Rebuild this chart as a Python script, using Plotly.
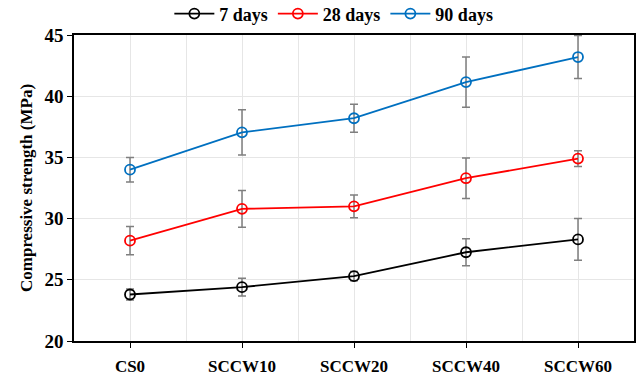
import plotly.graph_objects as go

categories = ["CS0", "SCCW10", "SCCW20", "SCCW40", "SCCW60"]
d7 = [23.8, 24.4, 25.3, 27.25, 28.3]
d7_err = [0.45, 0.72, 0.38, 1.1, 1.7]
d28 = [28.2, 30.8, 31.0, 33.3, 34.9]
d28_err = [1.15, 1.5, 0.93, 1.65, 0.65]
d90 = [34.0, 37.05, 38.2, 41.15, 43.2]
d90_err = [1.0, 1.85, 1.15, 2.05, 1.75]
names = ["7 days", "28 days", "90 days"]
colors = ["#000000", "#FF0000", "#0070C0"]

FONT = "Liberation Serif"
fig = go.Figure()
for name, y, e, c in zip(names, [d7, d28, d90], [d7_err, d28_err, d90_err], colors):
    fig.add_trace(go.Scatter(
        x=list(range(len(categories))), y=y, name="<b>%s</b>" % name, mode="lines+markers",
        line=dict(color=c, width=1.8),
        marker=dict(symbol="circle-open", size=10, color=c, line=dict(width=1.8, color=c)),
        error_y=dict(type="data", array=e, visible=True, color="#7F7F7F", thickness=1.5, width=4),
    ))

fig.update_layout(
    width=642, height=375,
    margin=dict(l=74, r=8, t=35, b=34, autoexpand=False),
    paper_bgcolor="white", plot_bgcolor="white",
    font=dict(family=FONT, color="black"),
    legend=dict(orientation="h", xref="container", x=0.52, xanchor="center",
                yref="container", y=0.963, yanchor="middle",
                font=dict(family=FONT, size=18, color="black"), itemwidth=40,
                traceorder="normal", bgcolor="rgba(0,0,0,0)"),
    showlegend=True,
)
fig.update_xaxes(
    range=[-0.5, 4.5], tickmode="array", tickvals=list(range(len(categories))),
    ticktext=["<b>%s</b>" % c for c in categories],
    tickfont=dict(family=FONT, size=17, color="black"),
    showline=True, linecolor="black", linewidth=1.5, mirror=True,
    ticks="outside", ticklen=5, tickcolor="black",
    showgrid=True, gridcolor="#E6E6E6", gridwidth=1,
    minor=dict(tickvals=[0.5, 1.5, 2.5, 3.5], showgrid=True, gridcolor="#E6E6E6", gridwidth=1),
    zeroline=False, ticklabelstandoff=4, automargin=False,
)
fig.update_yaxes(
    range=[20, 45], tickvals=[20, 25, 30, 35, 40, 45],
    ticktext=["<b>%d</b>" % v for v in [20, 25, 30, 35, 40, 45]],
    tickfont=dict(family=FONT, size=19, color="black"),
    title=dict(text="<b>Compressive strength (MPa)</b>", font=dict(family=FONT, size=17, color="black"), standoff=8),
    showline=True, linecolor="black", linewidth=1.5, mirror=True,
    ticks="outside", ticklen=5, tickcolor="black",
    showgrid=True, gridcolor="#E6E6E6", gridwidth=1, zeroline=False, automargin=False,
)
fig.write_html("out.html")
